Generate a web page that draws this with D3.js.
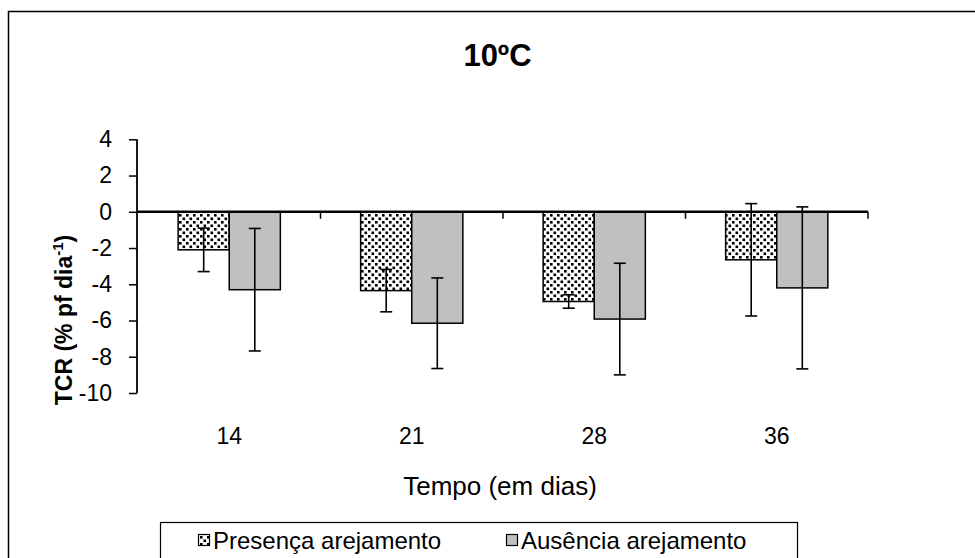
<!DOCTYPE html>
<html>
<head>
<meta charset="utf-8">
<script src="https://cdn.jsdelivr.net/npm/d3@7"></script>
<style>
  html, body { margin: 0; padding: 0; background: #fff; }
  svg { display: block; font-family: "Liberation Sans", Arial, sans-serif; }
</style>
</head>
<body>
<svg id="chart" width="975" height="558"></svg>
<script>
// Categories (days) and series
const days = ["14", "21", "28", "36"];
const presenca = [-2.1, -4.35, -4.95, -2.65];
const presencaErr = [1.2, 1.17, 0.37, 3.1];
const ausencia = [-4.3, -6.15, -5.92, -4.2];
const ausenciaErr = [3.38, 2.5, 3.08, 4.47];
const yTicks = [4, 2, 0, -2, -4, -6, -8, -10];
const seriesNames = ["Presença arejamento", "Ausência arejamento"];

const svg = d3.select("#chart");

// Dotted fill used by the "Presença" bars
const defs = svg.append("defs");
const pat = defs.append("pattern")
  .attr("id", "dots")
  .attr("patternUnits", "userSpaceOnUse")
  .attr("width", 7).attr("height", 7);
pat.append("rect").attr("width", 7).attr("height", 7).attr("fill", "#fff");
pat.append("rect").attr("x", 0.5).attr("y", 0.5).attr("width", 2.6).attr("height", 2.6).attr("fill", "#000");
pat.append("rect").attr("x", 4).attr("y", 4).attr("width", 2.6).attr("height", 2.6).attr("fill", "#000");

// Outer chart frame (runs off the right and bottom edges)
svg.append("rect")
  .attr("x", 8.5).attr("y", 11.5)
  .attr("width", 1000).attr("height", 600)
  .attr("fill", "none").attr("stroke", "#000").attr("stroke-width", 1.5);

const x = d3.scaleBand().domain(days).range([138, 868]).paddingInner(0.44).paddingOuter(0.22);
const y = d3.scaleLinear().domain([-10, 4]).range([393, 139.3]);

// Title
svg.append("text")
  .attr("x", 497.5).attr("y", 66)
  .attr("text-anchor", "middle")
  .attr("font-size", 31).attr("font-weight", "bold")
  .text("10ºC");

// Y axis
const yAxis = svg.append("g")
  .attr("transform", "translate(137,0)")
  .call(d3.axisLeft(y).tickValues(yTicks).tickSize(8).tickPadding(17).tickFormat(d3.format("d")));
yAxis.select(".domain").attr("stroke-width", 1.8).attr("d", `M0,${y(4)}V${y(-10)}`);
yAxis.selectAll(".tick line").attr("stroke-width", 1.5);
yAxis.selectAll(".tick text").attr("font-size", 23).attr("fill", "#000")
  .attr("font-family", "Liberation Sans, Arial, sans-serif")
  .text(d => d < 0 ? "-" + Math.abs(d) : d);

// Bars
const half = x.bandwidth() / 2;
const bars = svg.append("g");
const series = [
  { vals: presenca, err: presencaErr, fill: "url(#dots)", off: 0 },
  { vals: ausencia, err: ausenciaErr, fill: "#c0c0c0", off: half }
];
series.forEach(s => {
  bars.selectAll(null).data(days).enter().append("rect")
    .attr("x", (d) => x(d) + s.off)
    .attr("y", (d, i) => y(Math.max(0, s.vals[i])))
    .attr("width", half)
    .attr("height", (d, i) => Math.abs(y(s.vals[i]) - y(0)))
    .attr("fill", s.fill)
    .attr("stroke", "#000").attr("stroke-width", 1.5);
});

// Category axis at zero with boundary ticks
const step = x.step();
const bounds = [x(days[0]) - step * x.paddingInner() / 2];
days.forEach(d => bounds.push(x(d) + x.bandwidth() + step * x.paddingInner() / 2));
const xAxis = svg.append("g");
xAxis.append("line")
  .attr("x1", x.range()[0]).attr("x2", x.range()[1])
  .attr("y1", y(0)).attr("y2", y(0))
  .attr("stroke", "#000").attr("stroke-width", 2.5);
xAxis.selectAll(null).data(bounds.slice(1)).enter().append("line")
  .attr("x1", d => d).attr("x2", d => d)
  .attr("y1", y(0)).attr("y2", y(0) + 7)
  .attr("stroke", "#000").attr("stroke-width", 1.5);

// Error bars
const eb = svg.append("g").attr("stroke", "#000").attr("stroke-width", 1.6);
series.forEach(s => {
  days.forEach((d, i) => {
    const cx = x(d) + s.off + half / 2;
    const top = y(s.vals[i] + s.err[i]);
    const bot = y(s.vals[i] - s.err[i]);
    eb.append("line").attr("x1", cx).attr("x2", cx).attr("y1", top).attr("y2", bot);
    eb.append("line").attr("x1", cx - 6).attr("x2", cx + 6).attr("y1", top).attr("y2", top);
    eb.append("line").attr("x1", cx - 6).attr("x2", cx + 6).attr("y1", bot).attr("y2", bot);
  });
});

// Category labels
svg.append("g").selectAll("text").data(days).enter().append("text")
  .attr("x", d => x(d) + x.bandwidth() / 2)
  .attr("y", 444)
  .attr("text-anchor", "middle")
  .attr("font-size", 23)
  .text(d => d);

// Axis titles
svg.append("text")
  .attr("x", 500).attr("y", 495)
  .attr("text-anchor", "middle")
  .attr("font-size", 26)
  .text("Tempo (em dias)");

const yl = svg.append("text")
  .attr("transform", "translate(72,320) rotate(-90)")
  .attr("text-anchor", "middle")
  .attr("font-size", 23).attr("font-weight", "bold");
yl.append("tspan").text("TCR (% pf dia");
yl.append("tspan").attr("dy", -9).attr("font-size", 15).text("-1");
yl.append("tspan").attr("dy", 9).text(")");

// Legend
const lg = svg.append("g");
lg.append("rect")
  .attr("x", 160.5).attr("y", 522.5).attr("width", 637).attr("height", 60)
  .attr("fill", "#fff").attr("stroke", "#000").attr("stroke-width", 1.2);
const legendItems = [
  { name: seriesNames[0], fill: "url(#dots)", x: 198 },
  { name: seriesNames[1], fill: "#c0c0c0", x: 506 }
];
legendItems.forEach(it => {
  lg.append("rect").attr("x", it.x + 0.5).attr("y", 534.5).attr("width", 11).attr("height", 11)
    .attr("fill", it.fill).attr("stroke", "#000").attr("stroke-width", 1.2);
  lg.append("text").attr("x", it.x + 15).attr("y", 549).attr("font-size", 24).text(it.name);
});
</script>
</body>
</html>
